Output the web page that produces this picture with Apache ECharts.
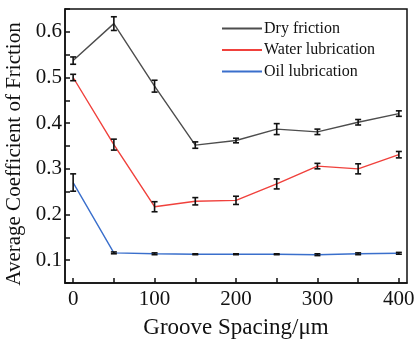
<!DOCTYPE html>
<html>
<head>
<meta charset="utf-8">
<script src="https://cdn.jsdelivr.net/npm/echarts@6/dist/echarts.min.js"></script>
<style>
  html, body { margin: 0; padding: 0; background: #fff; }
  #chart { width: 415px; height: 342px; }
</style>
</head>
<body>
<div id="chart"></div>
<script>
// groove spacing (μm)
var spacing = [0, 50, 100, 150, 200, 250, 300, 350, 400]
var xLabels = [0, 100, 200, 300, 400]

// average coefficient of friction and error half-widths
var dryFriction = [0.537, 0.618, 0.481, 0.352, 0.362, 0.387, 0.381, 0.402, 0.421]
var dryErr = [0.008, 0.015, 0.013, 0.007, 0.005, 0.012, 0.006, 0.006, 0.006]
var waterLub = [0.500, 0.353, 0.217, 0.229, 0.231, 0.267, 0.306, 0.300, 0.331]
var waterErr = [0.007, 0.012, 0.011, 0.008, 0.009, 0.011, 0.006, 0.011, 0.007]
var oilLub = [0.270, 0.116, 0.114, 0.113, 0.113, 0.113, 0.112, 0.114, 0.115]
var oilErr = [0.019, 0.002, 0.002, 0.001, 0.001, 0.001, 0.002, 0.002, 0.002]

var seriesNames = ['Dry friction', 'Water lubrication', 'Oil lubrication']
var colors = ['#4d4d4d', '#f0413c', '#3a6fcc']

var font = 'Liberation Serif'

function pairs(ys) {
  return spacing.map(function (x, i) { return [x, ys[i]] })
}

function errorData(ys, errs) {
  return spacing.map(function (x, i) { return [x, ys[i] - errs[i], ys[i] + errs[i]] })
}

// draws an I-shaped error bar at each point
function renderError(params, api) {
  var x = api.value(0)
  var lo = api.coord([x, api.value(1)])
  var hi = api.coord([x, api.value(2)])
  var cap = 3
  var style = { stroke: '#111', lineWidth: 1.6 }
  return {
    type: 'group',
    children: [
      { type: 'line', shape: { x1: lo[0], y1: lo[1], x2: hi[0], y2: hi[1] }, style: style },
      { type: 'line', shape: { x1: lo[0] - cap, y1: lo[1], x2: lo[0] + cap, y2: lo[1] }, style: style },
      { type: 'line', shape: { x1: hi[0] - cap, y1: hi[1], x2: hi[0] + cap, y2: hi[1] }, style: style }
    ]
  }
}

var lineSeries = [dryFriction, waterLub, oilLub].map(function (ys, i) {
  return {
    name: seriesNames[i],
    type: 'line',
    data: pairs(ys),
    showSymbol: false,
    symbol: 'none',
    lineStyle: { color: colors[i], width: 1.4 },
    itemStyle: { color: colors[i] },
    z: 2
  }
})

var errSeries = [[dryFriction, dryErr], [waterLub, waterErr], [oilLub, oilErr]].map(function (d) {
  return {
    type: 'custom',
    renderItem: renderError,
    data: errorData(d[0], d[1]),
    encode: { x: 0, y: [1, 2] },
    z: 3,
    silent: true
  }
})

var chart = echarts.init(document.getElementById('chart'))
chart.setOption({
  animation: false,
  grid: {
    left: 65,
    right: 8,
    top: 9,
    bottom: 59,
    show: true,
    borderColor: '#111',
    borderWidth: 1.5,
    containLabel: false,
    outerBoundsMode: 'none'
  },
  legend: {
    data: seriesNames,
    orient: 'vertical',
    left: 222,
    top: 20.5,
    padding: 0,
    itemWidth: 40,
    itemHeight: 2,
    itemGap: 5.5,
    icon: 'rect',
    textStyle: { fontFamily: font, fontSize: 16, color: '#111', padding: [0, 0, 0, -3] }
  },
  xAxis: {
    type: 'value',
    min: -10,
    max: 410,
    name: 'Groove Spacing/\u03bcm',
    nameLocation: 'middle',
    nameGap: 33,
    nameTextStyle: { fontFamily: font, fontSize: 23, color: '#111' },
    axisLine: { show: true, onZero: false, lineStyle: { color: '#111', width: 1.5 } },
    axisTick: {
      show: true, inside: true, length: 5,
      customValues: spacing,
      lineStyle: { color: '#111', width: 1.5 }
    },
    axisLabel: {
      fontFamily: font, fontSize: 21, color: '#111', margin: 6,
      customValues: xLabels
    },
    splitLine: { show: false }
  },
  yAxis: {
    type: 'value',
    min: 0.05,
    max: 0.65,
    interval: 0.05,
    name: 'Average Coefficient of Friction',
    nameLocation: 'middle',
    nameGap: 38,
    nameTextStyle: { fontFamily: font, fontSize: 21, color: '#111', padding: [0, 16, 0, 0] },
    axisLine: { show: true, onZero: false, lineStyle: { color: '#111', width: 1.5 } },
    axisTick: { show: true, inside: true, length: 5, lineStyle: { color: '#111', width: 1.5 } },
    axisLabel: {
      fontFamily: font, fontSize: 21, color: '#111', margin: 3,
      formatter: function (v) {
        var r = Math.round(v * 100)
        return r % 10 === 0 && r >= 10 && r <= 60 ? (r / 100).toFixed(1) : ''
      }
    },
    splitLine: { show: false }
  },
  series: lineSeries.concat(errSeries)
})
</script>
</body>
</html>
